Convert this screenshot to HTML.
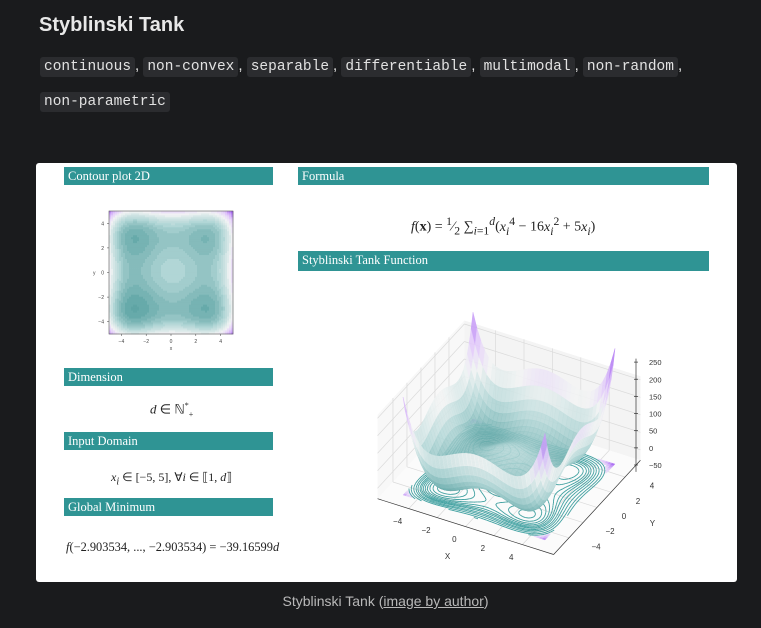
<!DOCTYPE html>
<html><head><meta charset="utf-8">
<style>
body{margin:0;width:761px;height:628px;background:#1a1b1d;overflow:hidden;font-family:"Liberation Sans",sans-serif;position:relative}
.abs{position:absolute}
h1{position:absolute;left:39px;top:14px;margin:0;font-size:20px;color:#e8e8e8;font-weight:bold}
.chip{background:#2b2c2f;color:#e2e2e2;font-family:"Liberation Mono",monospace;font-size:14.5px;padding:2px 4px;border-radius:3px}
.line{position:absolute;left:40px;color:#e2e2e2;font-size:15px;white-space:nowrap}
#card{position:absolute;left:36px;top:163px;width:701px;height:419px;background:#fff;border-radius:3px;overflow:hidden}
.hdr{position:absolute;background:#2f9494;color:#fff;font-family:"Liberation Serif",serif;font-size:12.5px;padding-left:4px;box-sizing:border-box;line-height:18px}
.math{position:absolute;font-family:"Liberation Serif",serif;font-size:13px;color:#222;white-space:nowrap}
#cap{position:absolute;top:593px;left:0;width:771px;text-align:center;color:#b9b9b9;font-size:14px}
</style></head><body>
<h1>Styblinski Tank</h1>
<div class="line" style="top:57px"><span class="chip">continuous</span>, <span class="chip">non-convex</span>, <span class="chip">separable</span>, <span class="chip">differentiable</span>, <span class="chip">multimodal</span>, <span class="chip">non-random</span>,</div>
<div class="line" style="top:92px"><span class="chip">non-parametric</span></div>

<div id="card">
<div class="hdr" style="left:28px;top:4px;width:209px">Contour plot 2D</div>
<div class="hdr" style="left:262px;top:4px;width:411px">Formula</div>
<div class="hdr" style="left:262px;top:88px;width:411px;height:20px">Styblinski Tank Function</div>
<div class="hdr" style="left:28px;top:205px;width:209px">Dimension</div>
<div class="hdr" style="left:28px;top:269px;width:209px">Input Domain</div>
<div class="hdr" style="left:28px;top:335px;width:209px">Global Minimum</div>
<div class="math" style="left:375px;top:52px;font-size:14px"><i>f</i>(<b>x</b>) = <sup>1</sup>&frasl;<sub>2</sub> &sum;<sub><i>i</i>=1</sub><sup><i>d</i></sup>(<i>x<sub>i</sub></i><sup>4</sup> &minus; 16<i>x<sub>i</sub></i><sup>2</sup> + 5<i>x<sub>i</sub></i>)</div>
<div class="math" style="left:114px;top:238px"><i>d</i> &isin; &#8469;<sup style="font-size:8px">*</sup><sub style="font-size:8px">+</sub></div>
<div class="math" style="left:75px;top:307px;font-size:12px"><i>x<sub>i</sub></i> &isin; [&minus;5, 5], &forall;<i>i</i> &isin; &#10214;1, <i>d</i>&#10215;</div>
<div class="math" style="left:30px;top:377px;font-size:12.4px"><i>f</i>(&minus;2.903534, ..., &minus;2.903534) = &minus;39.16599<i>d</i></div>
<svg id="c2" class="abs" style="left:0;top:0" width="701" height="419"></svg>
</div>
<div id="cap">Styblinski Tank (<u>image by author</u>)</div>

<script>
const xTicks=[-4,-2,0,2,4];
const yTicks=[-4,-2,0,2,4];
const zTicks=[-50,0,50,100,150,200,250];
const contourLevels=[-70,-60,-50,-40,-30,-20,-10,0,15,30,50,75,100];
const domain=[-5,5];
const NS='http://www.w3.org/2000/svg';
const svg=document.getElementById('c2');
function f(x,y){return 0.5*(x**4-16*x*x+5*x + y**4-16*y*y+5*y);}
function el(t,a,p){const e=document.createElementNS(NS,t);for(const k in a)e.setAttribute(k,a[k]);(p||svg).appendChild(e);return e;}
const stops=[[0,[95,165,165]],[0.24,[178,214,214]],[0.48,[242,244,244]],[0.68,[225,200,250]],[1,[150,75,240]]];
function col(z){let t=(z+78)/328;t=Math.max(0,Math.min(1,t));for(let i=1;i<stops.length;i++){if(t<=stops[i][0]){const a=stops[i-1],b=stops[i],u=(t-a[0])/(b[0]-a[0]);return 'rgb('+a[1].map((v,j)=>Math.round(v+(b[1][j]-v)*u)).join(',')+')';}}return 'rgb(150,75,240)';}

// ---- 2D contour plot ----
const g2=el('g',{});


const bx=73,by=48,bw=124,bh=123,n2=62;
function sx2(x){return bx+(x-domain[0])/(domain[1]-domain[0])*bw;}
function sy2(y){return by+bh-(y-domain[0])/(domain[1]-domain[0])*bh;}
for(let i=0;i<n2;i++)for(let j=0;j<n2;j++){
 const x=domain[0]+(i+0.5)*10/n2,y=domain[0]+(j+0.5)*10/n2;
 let z=f(x,y);z=Math.round(z/14)*14;
 el('rect',{x:sx2(x)-bw/n2/2,y:sy2(y)-bh/n2/2,width:bw/n2+0.4,height:bh/n2+0.4,fill:col(z)},g2);
}
el('rect',{x:bx,y:by,width:bw,height:bh,fill:'none',stroke:'#555','stroke-width':0.6},g2);
xTicks.forEach(v=>{const t=el('text',{x:sx2(v),y:by+bh+9,'font-size':5,'text-anchor':'middle',fill:'#444'},g2);t.textContent=v<0?'\u2212'+(-v):v;
 el('line',{x1:sx2(v),x2:sx2(v),y1:by+bh,y2:by+bh+2,stroke:'#444','stroke-width':0.5},g2);});
yTicks.forEach(v=>{const t=el('text',{x:bx-5,y:sy2(v)+2,'font-size':5,'text-anchor':'end',fill:'#444'},g2);t.textContent=v<0?'\u2212'+(-v):v;
 el('line',{x1:bx-2,x2:bx,y1:sy2(v),y2:sy2(v),stroke:'#444','stroke-width':0.5},g2);});
el('text',{x:bx+bw/2,y:by+bh+16,'font-size':5,'text-anchor':'middle',fill:'#444'},g2).textContent='x';
el('text',{x:bx-16,y:by+bh/2+2,'font-size':5,fill:'#444'},g2).textContent='y';

// ---- 3D surface ----
const OX=509-36,OY=479.5-163;
function P(x,y,z){return [OX+14.2*x+7*y, OY+4.5*x-7.6*y-(z+80)*0.35];}
const g3=el('g',{});


function pl(pts,attrs,p){return el('polygon',Object.assign({points:pts.map(q=>q.join(',')).join(' ')},attrs),p||g3);}
// walls
const W=6.2,zt=160;
pl([P(-W,-W,-80),P(-W,W,-80),P(-W,W,zt),P(-W,-W,zt)],{fill:'#f8f8f8'});
pl([P(-W,W,-80),P(W,W,-80),P(W,W,zt),P(-W,W,zt)],{fill:'#f4f4f4'});
pl([P(-W,-W,-80),P(W,-W,-80),P(W,W,-80),P(-W,W,-80)],{fill:'#fbfbfb'});
const gl={stroke:'#dadada','stroke-width':0.7};
function ln(a,b,at){el('line',Object.assign({x1:a[0],y1:a[1],x2:b[0],y2:b[1]},at),g3);}
xTicks.forEach(v=>{ln(P(v,W,-80),P(v,W,zt),gl);ln(P(v,-W,-80),P(v,W,-80),gl);});
yTicks.forEach(v=>{ln(P(-W,v,-80),P(-W,v,zt),gl);ln(P(-W,v,-80),P(W,v,-80),gl);});
zTicks.forEach(v=>{if(v<=zt){ln(P(-W,-W,v),P(-W,W,v),gl);ln(P(-W,W,v),P(W,W,v),gl);}});
// floor contours (marching squares)
const nf=50,gx=[];
for(let i=0;i<=nf;i++){gx.push(domain[0]+i*10/nf);}
for(let i=0;i<nf;i++)for(let j=0;j<nf;j++){
 const x=(gx[i]+gx[i+1])/2,y=(gx[j]+gx[j+1])/2;const z=f(x,y);
 if(z>110)pl([P(gx[i],gx[j],-80),P(gx[i+1],gx[j],-80),P(gx[i+1],gx[j+1],-80),P(gx[i],gx[j+1],-80)],{fill:col(z),stroke:col(z),'stroke-width':0.3});
}
contourLevels.forEach(L=>{
 for(let i=0;i<nf;i++)for(let j=0;j<nf;j++){
  const c=[[gx[i],gx[j]],[gx[i+1],gx[j]],[gx[i+1],gx[j+1]],[gx[i],gx[j+1]]];
  const v=c.map(p=>f(p[0],p[1])-L);const pts=[];
  for(let k=0;k<4;k++){const a=v[k],b=v[(k+1)%4];if((a<0)!==(b<0)){const t=a/(a-b),p=c[k],q=c[(k+1)%4];pts.push([p[0]+(q[0]-p[0])*t,p[1]+(q[1]-p[1])*t]);}}
  if(pts.length>=2){ln(P(pts[0][0],pts[0][1],-80),P(pts[1][0],pts[1][1],-80),{stroke:'#3d9f9f','stroke-width':0.9});}
  if(pts.length===4){ln(P(pts[2][0],pts[2][1],-80),P(pts[3][0],pts[3][1],-80),{stroke:'#3d9f9f','stroke-width':0.9});}
 }
});
// surface quads
const ns=36,quads=[];
for(let i=0;i<ns;i++)for(let j=0;j<ns;j++){
 const x0=domain[0]+i*10/ns,x1=x0+10/ns,y0=domain[0]+j*10/ns,y1=y0+10/ns;
 quads.push([x0,x1,y0,y1,(x0+x1)/2-(y0+y1)/2]);
}
quads.sort((a,b)=>a[4]-b[4]);
quads.forEach(q=>{
 const [x0,x1,y0,y1]=q;const zc=f((x0+x1)/2,(y0+y1)/2);const c=col(zc);
 pl([P(x0,y0,f(x0,y0)),P(x1,y0,f(x1,y0)),P(x1,y1,f(x1,y1)),P(x0,y1,f(x0,y1))],{fill:c,stroke:c,'stroke-width':0.4,'fill-opacity':0.88});
});
// axes labels
const tx={'font-size':8,fill:'#333','font-family':'"Liberation Sans",sans-serif','text-anchor':'middle'};
ln(P(-W,-W,-80),P(W,-W,-80),{stroke:'#333','stroke-width':0.7});
ln(P(W,-W,-80),P(W,W,-80),{stroke:'#333','stroke-width':0.7});
xTicks.forEach(v=>{const p=P(v,-W-1.6,-80);const t=el('text',Object.assign({x:p[0],y:p[1]+3},tx),g3);t.textContent=v<0?'\u2212'+(-v):v;});
yTicks.forEach(v=>{const p=P(W+1.9,v,-80);const t=el('text',Object.assign({x:p[0],y:p[1]+3},tx),g3);t.textContent=v<0?'\u2212'+(-v):v;});
let p=P(0.5,-W-3.6,-80);el('text',Object.assign({x:p[0],y:p[1]+3,'font-size':9},tx),g3).textContent='X';
p=P(W+3.8,0.2,-80);el('text',Object.assign({x:p[0],y:p[1]+3,'font-size':9},tx),g3).textContent='Y';
const zx=636-36;function zy(v){return 465-163-(v+50)*0.343;}
ln([zx,zy(-70)],[zx,zy(260)],{stroke:'#333','stroke-width':0.7});
zTicks.forEach(v=>{ln([zx-2,zy(v)],[zx+2,zy(v)],{stroke:'#333','stroke-width':0.7});
 const t=el('text',{x:zx+13,y:zy(v)+3,'font-size':7.5,fill:'#333','font-family':'"Liberation Sans",sans-serif'},g3);t.textContent=v<0?'\u2212'+(-v):v;});
</script>
</body></html>
